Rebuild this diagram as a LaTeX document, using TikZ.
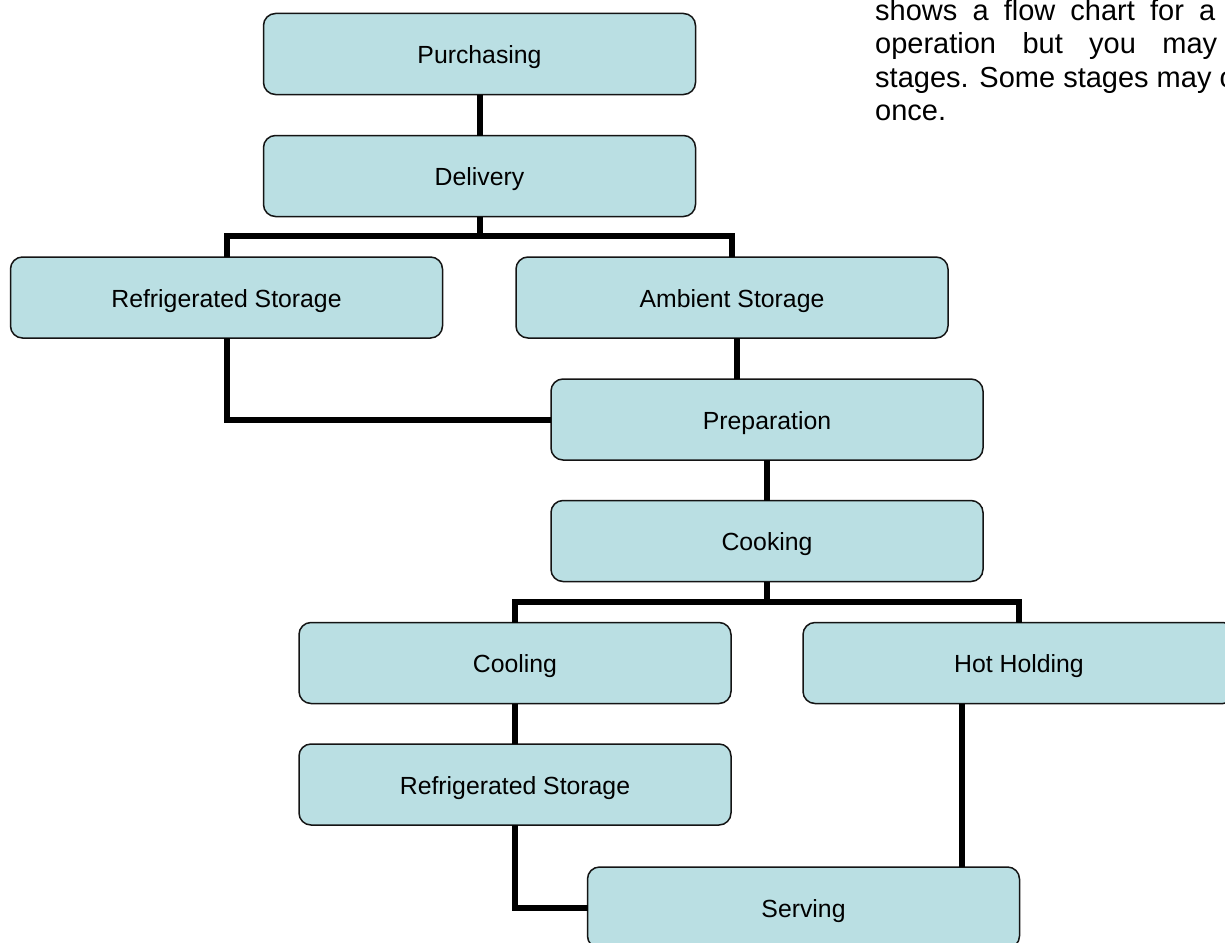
\documentclass[tikz,border=0pt]{standalone}
\usepackage{fontspec}
\setmainfont{Liberation Sans}
\definecolor{boxfill}{RGB}{186,223,227}
\definecolor{boxline}{RGB}{20,20,20}
\tikzset{
  stage/.style={rectangle, rounded corners=12pt, draw=boxline, fill=boxfill,
    line width=1.5pt, minimum width=432pt, minimum height=81pt, inner sep=0pt,
    outer sep=0pt, text height=19pt, text depth=0pt,
    font=\fontsize{24.8}{30}\selectfont},
  conn/.style={line width=6pt, black},
  para/.style={anchor=base west, inner sep=0pt, font=\fontsize{29}{33}\selectfont}
}
\begin{document}
\begin{tikzpicture}[x=1pt,y=-1pt]
\useasboundingbox (0,0) rectangle (1225,942);
\clip (0,0) rectangle (1225,942);
\fill[white] (0,0) rectangle (1225,942);

\coordinate (jA) at (479,236);
\coordinate (jB) at (767,602);

\node[stage] (pur)  at (479.5,54)   {Purchasing};
\node[stage] (del)  at (479.5,176)  {Delivery};
\node[stage] (rs1)  at (226.5,297.5) {Refrigerated Storage};
\node[stage] (amb)  at (732,297.5)  {Ambient Storage};
\node[stage] (prep) at (767,419.5)  {Preparation};
\node[stage] (cook) at (767,541)    {Cooking};
\node[stage] (cool) at (515,663)    {Cooling};
\node[stage] (hot)  at (1019,663)   {Hot Holding};
\node[stage] (rs2)  at (515,784.5)  {Refrigerated Storage};
\node[stage] (serv) at (803.5,907.5) {Serving};

\draw[conn] (pur.south) -- (del.north);
\draw[conn] (del.south) -- (del.south |- jA) -| (rs1.north);
\draw[conn] (del.south |- jA) -| (amb.north);
\draw[conn] ([xshift=5pt]amb.south) -- ([xshift=5pt]amb.south |- prep.north);
\draw[conn] (rs1.south) |- (prep.west);
\draw[conn] (prep.south) -- (cook.north);
\draw[conn] (cook.south) -- (cook.south |- jB) -| (cool.north);
\draw[conn] (cook.south |- jB) -| (hot.north);
\draw[conn] (cool.south) -- (rs2.north);
\draw[conn] (rs2.south) |- (serv.west);
\draw[conn] ([xshift=-57pt]hot.south) -- ([xshift=-57pt]hot.south |- serv.north);

% paragraph text (clipped at right edge, as in the reference)
\node[para] (t1) at (875,21)  {\hbox to 340pt{shows\hfill a\hfill flow\hfill chart\hfill for\hfill a}};
\node[para] (t2) at (875,54)  {\hbox to 342pt{operation\hfill but\hfill you\hfill may}};
\node[para] (t3) at (875,87)  {stages. Some stages may occur};
\node[para] (t4) at (875,120) {once.};
\end{tikzpicture}
\end{document}
